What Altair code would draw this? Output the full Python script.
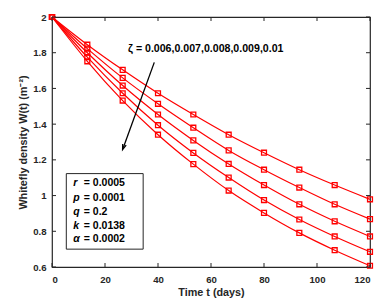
import altair as alt
import pandas as pd

# ---- data ----
t_days = [0, 13.33, 26.67, 40, 53.33, 66.67, 80, 93.33, 106.67, 120]
zeta_labels = ["0.006", "0.007", "0.008", "0.009", "0.01"]
W_006 = [2, 1.845, 1.704, 1.573, 1.454, 1.341, 1.240, 1.145, 1.059, 0.979]
W_007 = [2, 1.823, 1.659, 1.514, 1.380, 1.253, 1.145, 1.045, 0.951, 0.868]
W_008 = [2, 1.800, 1.616, 1.454, 1.309, 1.177, 1.059, 0.951, 0.856, 0.771]
W_009 = [2, 1.775, 1.573, 1.394, 1.239, 1.101, 0.975, 0.866, 0.771, 0.685]
W_010 = [2, 1.752, 1.532, 1.341, 1.176, 1.028, 0.903, 0.791, 0.694, 0.607]

x_ticks = [0, 20, 40, 60, 80, 100, 120]
y_ticks = [0.6, 0.8, 1, 1.2, 1.4, 1.6, 1.8, 2]

param_letters = ["r", "p", "q", "k", "α"]
param_values = ["= 0.0005", "= 0.0001", "= 0.2", "= 0.0138", "= 0.0002"]
zeta_text = "ζ = 0.006,0.007,0.008,0.009,0.01"

# annotation anchors (data coordinates)
zeta_anchor = {"x": 28.7, "y": 1.821}
arrow = {"x": 38.6, "y": 1.746, "x2": 26.9, "y2": 1.268}
box = {"x": 5.4, "x2": 34.4, "y": 1.123, "y2": 0.70}
param_rows_y = [1.068, 0.987, 0.908, 0.832, 0.755]
letter_x = 8.0
value_x = 12.0

# ---- build tables ----
series = [W_006, W_007, W_008, W_009, W_010]
rows = []
for z, ws in zip(zeta_labels, series):
    for t, w in zip(t_days, ws):
        rows.append({"t": t, "W": w, "zeta": z})
df = pd.DataFrame(rows)

FONT = "Liberation Sans"
DARK = "#262626"
RED = "#ff0000"

xscale = alt.Scale(domain=[0, 120], nice=False, zero=False)
yscale = alt.Scale(domain=[0.6, 2], nice=False, zero=False)
xaxis = alt.Axis(values=x_ticks, title="Time t (days)", grid=False, ticks=False,
                 domain=False, labelPadding=7, titlePadding=3, format="d")
yaxis = alt.Axis(values=y_ticks, title="Whitefly density W(t) (m⁻²)", grid=False,
                 ticks=False, domain=False, labelPadding=6, titlePadding=4, format="~g")

X = lambda f: alt.X(f, type="quantitative", scale=xscale, axis=xaxis)
Y = lambda f: alt.Y(f, type="quantitative", scale=yscale, axis=yaxis)

lines = alt.Chart(df).mark_line(color=RED, strokeWidth=1.2, interpolate="monotone").encode(
    x=X("t"), y=Y("W"), detail="zeta:N")
points = alt.Chart(df).mark_point(shape="square", filled=False, color=RED, size=24,
                                  strokeWidth=1.3, opacity=1).encode(
    x=X("t"), y=Y("W"), detail="zeta:N")

xt = pd.DataFrame({"v": x_ticks})
yt = pd.DataFrame({"v": y_ticks})
tick_bottom = alt.Chart(xt).mark_rule(color=DARK, strokeWidth=1).encode(
    x=X("v"), y=alt.value(250), y2=alt.value(246))
tick_top = alt.Chart(xt).mark_rule(color=DARK, strokeWidth=1).encode(
    x=X("v"), y=alt.value(0), y2=alt.value(4))
tick_left = alt.Chart(yt).mark_rule(color=DARK, strokeWidth=1).encode(
    y=Y("v"), x=alt.value(0), x2=alt.value(4))
tick_right = alt.Chart(yt).mark_rule(color=DARK, strokeWidth=1).encode(
    y=Y("v"), x=alt.value(318), x2=alt.value(314))

zdf = pd.DataFrame([{"x": zeta_anchor["x"], "y": zeta_anchor["y"], "txt": zeta_text}])
ztext = alt.Chart(zdf).mark_text(align="left", baseline="middle", font=FONT,
                                 fontWeight="bold", fontSize=10.6, color="black").encode(
    x=X("x"), y=Y("y"), text="txt:N")

adf = pd.DataFrame([arrow])
arrow_line = alt.Chart(adf).mark_rule(color="black", strokeWidth=1.3).encode(
    x=X("x"), y=Y("y"), x2="x2", y2="y2")
arrow_head = alt.Chart(adf).mark_point(
    shape="M-0.55,-1L0,0.6L0.55,-1", filled=False, color="black", strokeWidth=1.3,
    size=45, angle=20, opacity=1).encode(x=X("x2"), y=Y("y2"))

bdf = pd.DataFrame([box])
box_rect = alt.Chart(bdf).mark_rect(fill="white", stroke=DARK, strokeWidth=1).encode(
    x=X("x"), x2="x2", y=Y("y"), y2="y2")

pdf = pd.DataFrame({"letter": param_letters, "val": param_values, "y": param_rows_y,
                    "lx": [letter_x] * 5, "vx": [value_x] * 5})
letters = alt.Chart(pdf).mark_text(align="left", baseline="middle", font=FONT,
                                   fontWeight="bold", fontStyle="italic", fontSize=10.5,
                                   color="black").encode(
    x=X("lx"), y=Y("y"), text="letter:N")
values = alt.Chart(pdf).mark_text(align="left", baseline="middle", font=FONT,
                                  fontWeight="bold", fontSize=10.5, color="black").encode(
    x=X("vx"), y=Y("y"), text="val:N")

chart = alt.layer(
    lines, points, tick_bottom, tick_top, tick_left, tick_right,
    ztext, arrow_line, arrow_head, box_rect, letters, values
).properties(
    width=318, height=250,
    autosize=alt.AutoSizeParams(type="none"),
    padding={"left": 44, "top": 9, "right": 9, "bottom": 32},
    background="white",
).configure_view(
    stroke=DARK, strokeWidth=1.2
).configure_axis(
    labelFont=FONT, labelFontWeight="bold", labelFontSize=9.6, labelColor=DARK,
    titleFont=FONT, titleFontWeight="bold", titleFontSize=10.8, titleColor=DARK,
)

chart.save("out.html", embed_options={"renderer": "svg", "actions": False})
